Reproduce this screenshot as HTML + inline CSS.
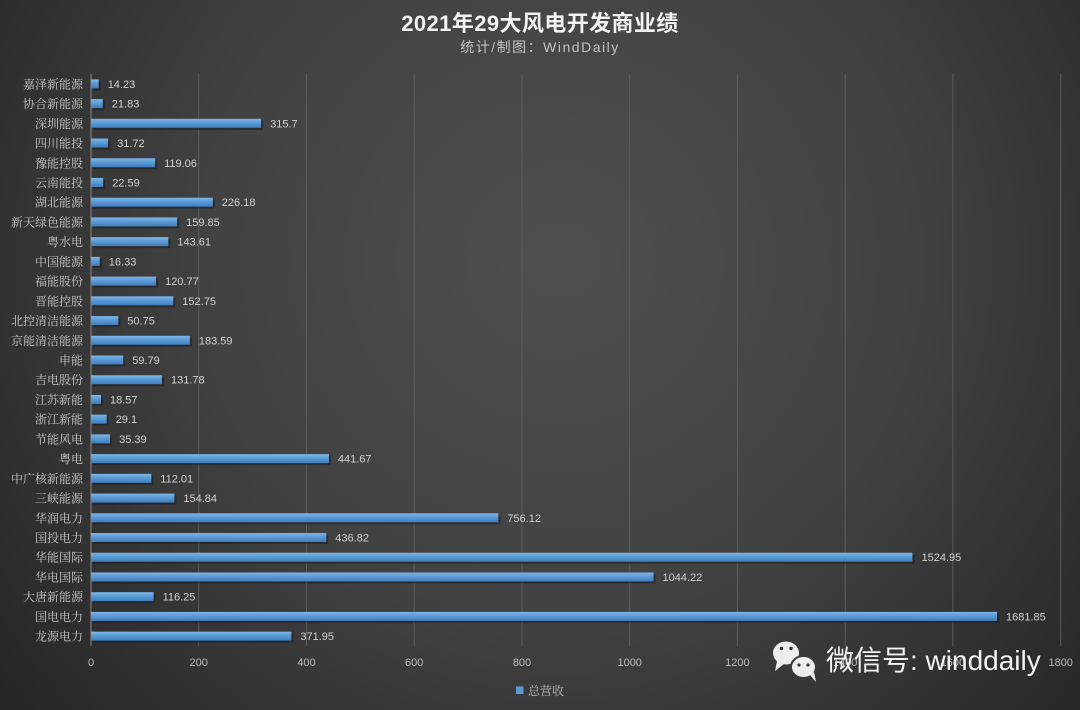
<!DOCTYPE html>
<html><head><meta charset="utf-8"><style>
html,body{margin:0;padding:0;width:1080px;height:710px;overflow:hidden;background:#333;}
svg{display:block;}
.cat{font-family:"Noto Serif CJK SC","Noto Serif CJK JP",serif;font-size:12px;fill:#c9c9c9;text-anchor:end;}
.val{font-family:"Liberation Sans","Noto Sans CJK SC",sans-serif;font-size:11px;fill:#d2d2d2;}
.tick{font-family:"Liberation Sans",sans-serif;font-size:11px;fill:#bdbdbd;text-anchor:middle;}
</style></head><body>
<svg width="1080" height="710" viewBox="0 0 1080 710" xmlns="http://www.w3.org/2000/svg">
<defs>
<radialGradient id="bg" cx="560" cy="260" r="720" gradientUnits="userSpaceOnUse">
<stop offset="0" stop-color="#4f4f4f"/>
<stop offset="0.5" stop-color="#414141"/>
<stop offset="1" stop-color="#252525"/>
</radialGradient>
<linearGradient id="bar" x1="0" y1="0" x2="0" y2="1">
<stop offset="0" stop-color="#7db6ea"/>
<stop offset="0.45" stop-color="#5b9bd5"/>
<stop offset="1" stop-color="#3f7dc0"/>
</linearGradient>
</defs>
<rect width="1080" height="710" fill="url(#bg)"/>

<text x="540" y="31" text-anchor="middle" style="font-family:'Liberation Sans','Noto Sans CJK SC',sans-serif;font-size:22px;font-weight:bold;fill:#f2f2f2;letter-spacing:0.4px;">2021年29大风电开发商业绩</text>
<text x="540" y="52" text-anchor="middle" style="font-family:'Liberation Sans','Noto Sans CJK SC',sans-serif;font-size:14px;fill:#c2c2c2;letter-spacing:1.5px;">统计/制图：WindDaily</text>

<g stroke="#5c5c5c" stroke-width="1">
<line x1="198.7" y1="74" x2="198.7" y2="646"/>
<line x1="306.5" y1="74" x2="306.5" y2="646"/>
<line x1="414.2" y1="74" x2="414.2" y2="646"/>
<line x1="522" y1="74" x2="522" y2="646"/>
<line x1="629.7" y1="74" x2="629.7" y2="646"/>
<line x1="737.4" y1="74" x2="737.4" y2="646"/>
<line x1="845.2" y1="74" x2="845.2" y2="646"/>
<line x1="952.9" y1="74" x2="952.9" y2="646"/>
<line x1="1060.7" y1="74" x2="1060.7" y2="646"/>
</g>
<line x1="91" y1="74" x2="91" y2="646" stroke="#8a8a8a" stroke-width="1"/>

<g class="ticks">
<text class="tick" x="91" y="666">0</text>
<text class="tick" x="198.7" y="666">200</text>
<text class="tick" x="306.5" y="666">400</text>
<text class="tick" x="414.2" y="666">600</text>
<text class="tick" x="522" y="666">800</text>
<text class="tick" x="629.7" y="666">1000</text>
<text class="tick" x="737.4" y="666">1200</text>
<text class="tick" x="845.2" y="666">1400</text>
<text class="tick" x="952.9" y="666">1600</text>
<text class="tick" x="1060.7" y="666">1800</text>
</g>

<!-- rows -->
<g transform="translate(0,83.86)"><rect x="93" y="-2.5" width="7.67" height="9" fill="#1c1c1c" opacity="0.55"/><rect x="91" y="-4.5" width="7.67" height="9" fill="url(#bar)"/><text class="cat" x="83" y="4.5">嘉泽新能源</text><text class="val" x="107.7" y="4">14.23</text></g>
<g transform="translate(0,103.59)"><rect x="93" y="-2.5" width="11.76" height="9" fill="#1c1c1c" opacity="0.55"/><rect x="91" y="-4.5" width="11.76" height="9" fill="url(#bar)"/><text class="cat" x="83" y="4.5">协合新能源</text><text class="val" x="111.8" y="4">21.83</text></g>
<g transform="translate(0,123.31)"><rect x="93" y="-2.5" width="170.07" height="9" fill="#1c1c1c" opacity="0.55"/><rect x="91" y="-4.5" width="170.07" height="9" fill="url(#bar)"/><text class="cat" x="83" y="4.5">深圳能源</text><text class="val" x="270.1" y="4">315.7</text></g>
<g transform="translate(0,143.03)"><rect x="93" y="-2.5" width="17.09" height="9" fill="#1c1c1c" opacity="0.55"/><rect x="91" y="-4.5" width="17.09" height="9" fill="url(#bar)"/><text class="cat" x="83" y="4.5">四川能投</text><text class="val" x="117.1" y="4">31.72</text></g>
<g transform="translate(0,162.76)"><rect x="93" y="-2.5" width="64.14" height="9" fill="#1c1c1c" opacity="0.55"/><rect x="91" y="-4.5" width="64.14" height="9" fill="url(#bar)"/><text class="cat" x="83" y="4.5">豫能控股</text><text class="val" x="164.1" y="4">119.06</text></g>
<g transform="translate(0,182.48)"><rect x="93" y="-2.5" width="12.17" height="9" fill="#1c1c1c" opacity="0.55"/><rect x="91" y="-4.5" width="12.17" height="9" fill="url(#bar)"/><text class="cat" x="83" y="4.5">云南能投</text><text class="val" x="112.2" y="4">22.59</text></g>
<g transform="translate(0,202.21)"><rect x="93" y="-2.5" width="121.84" height="9" fill="#1c1c1c" opacity="0.55"/><rect x="91" y="-4.5" width="121.84" height="9" fill="url(#bar)"/><text class="cat" x="83" y="4.5">湖北能源</text><text class="val" x="221.8" y="4">226.18</text></g>
<g transform="translate(0,221.93)"><rect x="93" y="-2.5" width="86.11" height="9" fill="#1c1c1c" opacity="0.55"/><rect x="91" y="-4.5" width="86.11" height="9" fill="url(#bar)"/><text class="cat" x="83" y="4.5">新天绿色能源</text><text class="val" x="186.1" y="4">159.85</text></g>
<g transform="translate(0,241.66)"><rect x="93" y="-2.5" width="77.36" height="9" fill="#1c1c1c" opacity="0.55"/><rect x="91" y="-4.5" width="77.36" height="9" fill="url(#bar)"/><text class="cat" x="83" y="4.5">粤水电</text><text class="val" x="177.4" y="4">143.61</text></g>
<g transform="translate(0,261.38)"><rect x="93" y="-2.5" width="8.80" height="9" fill="#1c1c1c" opacity="0.55"/><rect x="91" y="-4.5" width="8.80" height="9" fill="url(#bar)"/><text class="cat" x="83" y="4.5">中国能源</text><text class="val" x="108.8" y="4">16.33</text></g>
<g transform="translate(0,281.10)"><rect x="93" y="-2.5" width="65.06" height="9" fill="#1c1c1c" opacity="0.55"/><rect x="91" y="-4.5" width="65.06" height="9" fill="url(#bar)"/><text class="cat" x="83" y="4.5">福能股份</text><text class="val" x="165.1" y="4">120.77</text></g>
<g transform="translate(0,300.83)"><rect x="93" y="-2.5" width="82.29" height="9" fill="#1c1c1c" opacity="0.55"/><rect x="91" y="-4.5" width="82.29" height="9" fill="url(#bar)"/><text class="cat" x="83" y="4.5">晋能控股</text><text class="val" x="182.3" y="4">152.75</text></g>
<g transform="translate(0,320.55)"><rect x="93" y="-2.5" width="27.34" height="9" fill="#1c1c1c" opacity="0.55"/><rect x="91" y="-4.5" width="27.34" height="9" fill="url(#bar)"/><text class="cat" x="83" y="4.5">北控清洁能源</text><text class="val" x="127.3" y="4">50.75</text></g>
<g transform="translate(0,340.28)"><rect x="93" y="-2.5" width="98.90" height="9" fill="#1c1c1c" opacity="0.55"/><rect x="91" y="-4.5" width="98.90" height="9" fill="url(#bar)"/><text class="cat" x="83" y="4.5">京能清洁能源</text><text class="val" x="198.9" y="4">183.59</text></g>
<g transform="translate(0,360.00)"><rect x="93" y="-2.5" width="32.21" height="9" fill="#1c1c1c" opacity="0.55"/><rect x="91" y="-4.5" width="32.21" height="9" fill="url(#bar)"/><text class="cat" x="83" y="4.5">申能</text><text class="val" x="132.2" y="4">59.79</text></g>
<g transform="translate(0,379.72)"><rect x="93" y="-2.5" width="70.99" height="9" fill="#1c1c1c" opacity="0.55"/><rect x="91" y="-4.5" width="70.99" height="9" fill="url(#bar)"/><text class="cat" x="83" y="4.5">吉电股份</text><text class="val" x="171.0" y="4">131.78</text></g>
<g transform="translate(0,399.45)"><rect x="93" y="-2.5" width="10.00" height="9" fill="#1c1c1c" opacity="0.55"/><rect x="91" y="-4.5" width="10.00" height="9" fill="url(#bar)"/><text class="cat" x="83" y="4.5">江苏新能</text><text class="val" x="110.0" y="4">18.57</text></g>
<g transform="translate(0,419.17)"><rect x="93" y="-2.5" width="15.68" height="9" fill="#1c1c1c" opacity="0.55"/><rect x="91" y="-4.5" width="15.68" height="9" fill="url(#bar)"/><text class="cat" x="83" y="4.5">浙江新能</text><text class="val" x="115.7" y="4">29.1</text></g>
<g transform="translate(0,438.90)"><rect x="93" y="-2.5" width="19.06" height="9" fill="#1c1c1c" opacity="0.55"/><rect x="91" y="-4.5" width="19.06" height="9" fill="url(#bar)"/><text class="cat" x="83" y="4.5">节能风电</text><text class="val" x="119.1" y="4">35.39</text></g>
<g transform="translate(0,458.62)"><rect x="93" y="-2.5" width="237.93" height="9" fill="#1c1c1c" opacity="0.55"/><rect x="91" y="-4.5" width="237.93" height="9" fill="url(#bar)"/><text class="cat" x="83" y="4.5">粤电</text><text class="val" x="337.9" y="4">441.67</text></g>
<g transform="translate(0,478.34)"><rect x="93" y="-2.5" width="60.34" height="9" fill="#1c1c1c" opacity="0.55"/><rect x="91" y="-4.5" width="60.34" height="9" fill="url(#bar)"/><text class="cat" x="83" y="4.5">中广核新能源</text><text class="val" x="160.3" y="4">112.01</text></g>
<g transform="translate(0,498.07)"><rect x="93" y="-2.5" width="83.41" height="9" fill="#1c1c1c" opacity="0.55"/><rect x="91" y="-4.5" width="83.41" height="9" fill="url(#bar)"/><text class="cat" x="83" y="4.5">三峡能源</text><text class="val" x="183.4" y="4">154.84</text></g>
<g transform="translate(0,517.79)"><rect x="93" y="-2.5" width="407.32" height="9" fill="#1c1c1c" opacity="0.55"/><rect x="91" y="-4.5" width="407.32" height="9" fill="url(#bar)"/><text class="cat" x="83" y="4.5">华润电力</text><text class="val" x="507.3" y="4">756.12</text></g>
<g transform="translate(0,537.52)"><rect x="93" y="-2.5" width="235.31" height="9" fill="#1c1c1c" opacity="0.55"/><rect x="91" y="-4.5" width="235.31" height="9" fill="url(#bar)"/><text class="cat" x="83" y="4.5">国投电力</text><text class="val" x="335.3" y="4">436.82</text></g>
<g transform="translate(0,557.24)"><rect x="93" y="-2.5" width="821.49" height="9" fill="#1c1c1c" opacity="0.55"/><rect x="91" y="-4.5" width="821.49" height="9" fill="url(#bar)"/><text class="cat" x="83" y="4.5">华能国际</text><text class="val" x="921.5" y="4">1524.95</text></g>
<g transform="translate(0,576.97)"><rect x="93" y="-2.5" width="562.52" height="9" fill="#1c1c1c" opacity="0.55"/><rect x="91" y="-4.5" width="562.52" height="9" fill="url(#bar)"/><text class="cat" x="83" y="4.5">华电国际</text><text class="val" x="662.5" y="4">1044.22</text></g>
<g transform="translate(0,596.69)"><rect x="93" y="-2.5" width="62.62" height="9" fill="#1c1c1c" opacity="0.55"/><rect x="91" y="-4.5" width="62.62" height="9" fill="url(#bar)"/><text class="cat" x="83" y="4.5">大唐新能源</text><text class="val" x="162.6" y="4">116.25</text></g>
<g transform="translate(0,616.41)"><rect x="93" y="-2.5" width="906.01" height="9" fill="#1c1c1c" opacity="0.55"/><rect x="91" y="-4.5" width="906.01" height="9" fill="url(#bar)"/><text class="cat" x="83" y="4.5">国电电力</text><text class="val" x="1006.0" y="4">1681.85</text></g>
<g transform="translate(0,636.14)"><rect x="93" y="-2.5" width="200.37" height="9" fill="#1c1c1c" opacity="0.55"/><rect x="91" y="-4.5" width="200.37" height="9" fill="url(#bar)"/><text class="cat" x="83" y="4.5">龙源电力</text><text class="val" x="300.4" y="4">371.95</text></g>

<!-- legend -->
<rect x="516" y="686.5" width="7.5" height="7.5" fill="#5b9bd5"/>
<text x="528" y="695" style="font-family:'Noto Serif CJK SC',serif;font-size:12px;fill:#bdbdbd;">总营收</text>

<!-- watermark -->
<g>
<ellipse cx="786" cy="653" rx="13" ry="11.5" fill="#ededed"/>
<path d="M777 661 L775 671 L784 664 Z" fill="#ededed"/>
<ellipse cx="803.5" cy="667" rx="12.5" ry="11" fill="#ededed" stroke="#3a3a3a" stroke-width="2"/>
<path d="M810 675 L816 682 L814 672 Z" fill="#ededed"/>
<circle cx="781.5" cy="648.5" r="1.7" fill="#333"/>
<circle cx="791" cy="648.5" r="1.7" fill="#333"/>
<circle cx="799" cy="665" r="1.6" fill="#333"/>
<circle cx="808" cy="665" r="1.6" fill="#333"/>
</g>
<text x="826" y="670" style="font-family:'Liberation Sans','Noto Sans CJK SC',sans-serif;font-size:28px;fill:#f2f2f2;">微信号: winddaily</text>
</svg>
</body></html>
